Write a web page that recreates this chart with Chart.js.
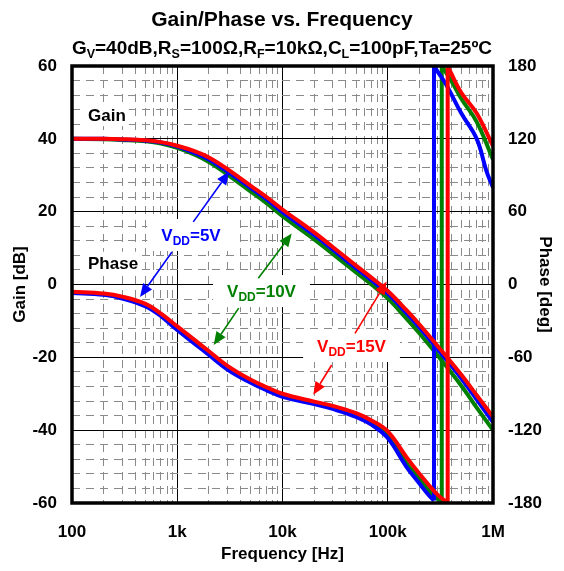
<!DOCTYPE html>
<html>
<head>
<meta charset="utf-8">
<title>Gain/Phase vs. Frequency</title>
<script src="https://cdn.jsdelivr.net/npm/chart.js@4.4.1/dist/chart.umd.min.js"></script>
<style>
  html, body { margin: 0; padding: 0; background: #fff; }
  #wrap { width: 564px; height: 571px; }
</style>
</head>
<body>
<div id="wrap"><canvas id="myChart"></canvas></div>
<script>
const FONT = "'Liberation Sans', Arial, sans-serif";
const BLUE = '#0000ff', GREEN = '#008000', RED = '#ff0000';

// frequency points [Hz] for the gain curves
const freqs = [100, 200, 300, 500, 700, 1e3, 1.5e3, 2e3, 3e3, 5e3, 7e3, 1e4, 2e4, 3e4, 5e4, 7e4, 1e5, 1.5e5, 2e5, 3e5, 5e5, 7e5, 1e6];

// gain [dB]
const gain5V  = [40.0, 40.0, 39.8, 39.5, 39.0, 37.9, 36.0, 34.3, 31.0, 26.5, 23.5, 19.9, 13.6, 9.6, 4.5, 1.2, -2.5, -7.8, -11.8, -17.9, -25.8, -31.6, -37.8];
const gain10V = [40.0, 39.9, 39.7, 39.3, 38.7, 37.5, 35.5, 33.6, 30.2, 25.5, 22.4, 18.8, 12.4, 8.4, 3.3, 0.0, -3.8, -9.3, -13.4, -19.6, -27.8, -33.8, -40.0];
const gain15V = [40.0, 40.0, 39.9, 39.6, 39.1, 38.1, 36.5, 34.9, 31.7, 27.1, 24.1, 20.6, 14.3, 10.3, 5.2, 1.9, -1.8, -7.0, -11.0, -17.0, -24.8, -30.4, -36.3];

// phase [deg], wraps from -180 to +180 at high frequency
const phaseFreq5V = [100, 200, 300, 500, 700, 1e3, 1.5e3, 2e3, 3e3, 5e3, 7e3, 1e4, 2e4, 3e4, 5e4, 7e4, 1e5, 1.5e5, 2e5, 2.5e5, 2.75e5, 2.75e5, 3e5, 3.63e5, 5e5, 7e5, 8.7e5, 1e6];
const phase5V = [-7, -8.5, -11.5, -18, -26, -37.5, -49.5, -58, -70, -81, -87, -92.5, -98.5, -102.5, -109, -115.5, -126.5, -150, -164, -174.5, -178, 180, 175, 164, 141, 120, 93, 80];

const phaseFreq10V = [100, 200, 300, 500, 700, 1e3, 1.5e3, 2e3, 3e3, 5e3, 7e3, 1e4, 2e4, 3e4, 5e4, 7e4, 1e5, 1.5e5, 2e5, 2.5e5, 3e5, 3.26e5, 3.26e5, 4e5, 5e5, 7e5, 1e6];
const phase10V = [-6.5, -8, -11, -17, -25, -36, -48, -56.5, -68.5, -80, -86, -91.5, -97.5, -101.5, -107.5, -114, -124.5, -147, -160, -170.5, -177, -180, 180, 168, 153, 134, 103];

const phaseFreq15V = [100, 200, 300, 500, 700, 1e3, 1.5e3, 2e3, 3e3, 5e3, 7e3, 1e4, 2e4, 3e4, 5e4, 7e4, 1e5, 1.5e5, 2e5, 2.5e5, 3e5, 3.71e5, 3.71e5, 4e5, 5e5, 7e5, 1e6];
const phase15V = [-6, -7.5, -10, -16, -24, -34.5, -46.5, -55, -67, -78.5, -84.5, -90, -96.5, -100, -106, -112, -121, -142, -156, -166, -173.5, -180, 180, 174, 158, 141, 114];

// axis ticks
const xTicks = [100, 1e3, 1e4, 1e5, 1e6];
const xTickLabels = ['100', '1k', '10k', '100k', '1M'];
const gainTicks = [-60, -40, -20, 0, 20, 40, 60];
const phaseTicks = [-180, -120, -60, 0, 60, 120, 180];

// V_DD labels [text, colour, freq, gain dB] and arrows [colour, f1, g1, f2, g2]
const vddLabels = [['5V', BLUE, 1351, 13.6], ['10V', GREEN, 6318, -1.8], ['15V', RED, 45250, -16.9]];
const vddArrows = [
  [BLUE, 1420, 17.2, 3120, 31.0],
  [BLUE, 891, 8.9, 443, -3.4],
  [GREEN, 5890, 1.7, 12230, 14.0],
  [GREEN, 3837, -6.5, 2219, -16.6],
  [RED, 48860, -13.4, 97700, 0.8],
  [RED, 29350, -22.1, 19620, -30.3]
];
const curveNames = [['Gain', 142, 46.5], ['Phase', 142, 6.0]];

function gainPoints(ys) {
  return freqs.map((f, i) => ({x: f, y: ys[i]}));
}
// break the line where the phase wraps, the jump itself is drawn by its own dataset
function phasePoints(fs, ps) {
  const pts = [];
  fs.forEach((f, i) => {
    if (i > 0 && Math.abs(ps[i] - ps[i - 1]) > 180) pts.push({x: f, y: null});
    pts.push({x: f, y: ps[i]});
  });
  return pts;
}
function wrapPoints(fs, ps) {
  for (let i = 1; i < fs.length; i++) {
    if (Math.abs(ps[i] - ps[i - 1]) > 180) return [{x: fs[i - 1], y: ps[i - 1]}, {x: fs[i], y: ps[i]}];
  }
  return [];
}

function curve(data, color, axis) {
  return {data: data, yAxisID: axis, borderColor: color, borderWidth: 4, pointRadius: 0,
    tension: 0.4, fill: false};
}
function jump(data, color) {
  return {data: data, yAxisID: 'y1', borderColor: color, borderWidth: 4, pointRadius: 0, tension: 0};
}

function partsWidth(ctx, parts) {
  let w = 0;
  parts.forEach(p => { ctx.font = 'bold ' + p[1] + 'px ' + FONT; w += ctx.measureText(p[0]).width; });
  return w;
}
function drawParts(ctx, parts, x, y) {
  parts.forEach(p => {
    ctx.font = 'bold ' + p[1] + 'px ' + FONT;
    ctx.fillText(p[0], x, y + p[2]);
    x += ctx.measureText(p[0]).width;
  });
}
function arrow(ctx, x1, y1, x2, y2, color) {
  const a = Math.atan2(y2 - y1, x2 - x1);
  const head = 13, half = 5.5;
  const bx = x2 - head * Math.cos(a), by = y2 - head * Math.sin(a);
  ctx.strokeStyle = color;
  ctx.fillStyle = color;
  ctx.lineWidth = 1.6;
  ctx.beginPath();
  ctx.moveTo(x1, y1);
  ctx.lineTo(bx, by);
  ctx.stroke();
  ctx.beginPath();
  ctx.moveTo(x2, y2);
  ctx.lineTo(bx + half * Math.sin(a), by - half * Math.cos(a));
  ctx.lineTo(bx - half * Math.sin(a), by + half * Math.cos(a));
  ctx.closePath();
  ctx.fill();
}

const annotate = {
  id: 'annotate',
  beforeDatasetsDraw(chart) {
    const {ctx, scales: {x, y}} = chart;
    ctx.save();
    ctx.textBaseline = 'alphabetic';
    curveNames.forEach(([t, f, g]) => {
      const px = x.getPixelForValue(f), py = y.getPixelForValue(g);
      ctx.font = 'bold 17px ' + FONT;
      const w = ctx.measureText(t).width;
      ctx.fillStyle = '#fff';
      ctx.fillRect(px - 3, py - 11, w + 6, 22);
      ctx.fillStyle = '#000';
      ctx.fillText(t, px, py + 6);
    });
    vddLabels.forEach(([v, color, f, g]) => {
      const parts = [['V', 17, 0], ['DD', 12, 4], ['=' + v, 17, 0]];
      const w = partsWidth(ctx, parts);
      const px = x.getPixelForValue(f), py = y.getPixelForValue(g);
      ctx.fillStyle = '#fff';
      ctx.fillRect(px - w / 2 - 14, py - 16, w + 28, 32);
      ctx.fillStyle = color;
      drawParts(ctx, parts, px - w / 2, py + 6);
    });
    ctx.restore();
  },
  afterDatasetsDraw(chart) {
    const {ctx, chartArea: a, scales: {x, y}} = chart;
    ctx.save();
    vddArrows.forEach(([c, f1, g1, f2, g2]) => {
      arrow(ctx, x.getPixelForValue(f1), y.getPixelForValue(g1), x.getPixelForValue(f2), y.getPixelForValue(g2), c);
    });
    ctx.strokeStyle = '#000';
    ctx.lineWidth = 3.5;
    ctx.strokeRect(a.left, a.top, a.right - a.left, a.bottom - a.top);
    ctx.restore();
  },
  afterDraw(chart) {
    const ctx = chart.ctx;
    const cx = chart.width / 2;
    ctx.save();
    ctx.fillStyle = '#000';
    ctx.textBaseline = 'alphabetic';
    ctx.textAlign = 'center';
    ctx.font = 'bold 21px ' + FONT;
    ctx.fillText('Gain/Phase vs. Frequency', cx, 26);
    ctx.textAlign = 'left';
    const sub = [['G', 19, 0], ['V', 12.5, 4], ['=40dB,R', 19, 0], ['S', 12.5, 4], ['=100\u03a9,R', 19, 0], ['F', 12.5, 4],
      ['=10k\u03a9,C', 19, 0], ['L', 12.5, 4], ['=100pF,Ta=25\u00baC', 19, 0]];
    const w = partsWidth(ctx, sub);
    drawParts(ctx, sub, cx - w / 2, 54);
    ctx.restore();
  }
};

function isMajorX(v) { return xTicks.includes(v); }

function createChart() {
  const ctx = document.getElementById('myChart').getContext('2d');
  Chart.defaults.color = '#000';
  const tickFont = {family: FONT, size: 17, weight: 'bold'};
  const titleFont = {family: FONT, size: 17, weight: 'bold'};
  new Chart(ctx, {
    type: 'line',
    data: {
      datasets: [
        curve(gainPoints(gain15V), RED, 'y'),
        curve(phasePoints(phaseFreq15V, phase15V), RED, 'y1'),
        jump(wrapPoints(phaseFreq15V, phase15V), RED),
        curve(gainPoints(gain5V), BLUE, 'y'),
        curve(phasePoints(phaseFreq5V, phase5V), BLUE, 'y1'),
        jump(wrapPoints(phaseFreq5V, phase5V), BLUE),
        curve(gainPoints(gain10V), GREEN, 'y'),
        curve(phasePoints(phaseFreq10V, phase10V), GREEN, 'y1'),
        jump(wrapPoints(phaseFreq10V, phase10V), GREEN)
      ]
    },
    options: {
      responsive: true,
      maintainAspectRatio: false,
      animation: false,
      layout: {padding: {top: 66, left: 0, right: 0, bottom: 0}},
      plugins: {legend: {display: false}, tooltip: {enabled: false}},
      scales: {
        x: {
          type: 'logarithmic',
          min: 100,
          max: 1e6,
          afterBuildTicks: (scale) => {
            const ticks = [];
            xTicks.forEach((d, i) => {
              ticks.push({value: d});
              if (i < xTicks.length - 1) for (let m = 2; m <= 9; m++) ticks.push({value: d * m});
            });
            scale.ticks = ticks;
          },
          afterFit: (scale) => { scale.height = 68; },
          ticks: {
            autoSkip: false, maxRotation: 0, minRotation: 0, padding: 19, font: tickFont,
            callback: (v) => { const i = xTicks.indexOf(v); return i >= 0 ? xTickLabels[i] : ''; }
          },
          grid: {
            drawTicks: false, lineWidth: 1,
            color: (c) => (c.tick && isMajorX(c.tick.value)) ? '#000' : '#8a8a8a'
          },
          border: {display: false, dash: (c) => (c.tick && isMajorX(c.tick.value)) ? [] : [8, 6]},
          title: {display: true, text: 'Frequency [Hz]', font: titleFont, padding: {top: 0, bottom: 6}}
        },
        y: {
          position: 'left',
          min: -60, max: 60,
          afterFit: (scale) => { scale.width = 72; },
          ticks: {
            stepSize: 4, autoSkip: false, padding: 15, font: tickFont,
            callback: (v) => gainTicks.includes(v) ? String(v) : ''
          },
          grid: {
            drawTicks: false, lineWidth: 1,
            color: (c) => (c.tick && gainTicks.includes(c.tick.value)) ? '#000' : '#8a8a8a'
          },
          border: {display: false, dash: (c) => (c.tick && gainTicks.includes(c.tick.value)) ? [] : [8, 6]},
          title: {display: true, text: 'Gain [dB]', font: titleFont, padding: {top: 10, bottom: 0}}
        },
        y1: {
          position: 'right',
          min: -180, max: 180,
          afterFit: (scale) => { scale.width = 71; },
          ticks: {
            stepSize: 12, autoSkip: false, padding: 15, font: tickFont,
            callback: (v) => phaseTicks.includes(v) ? String(v) : ''
          },
          grid: {drawOnChartArea: false, drawTicks: false},
          border: {display: false},
          title: {display: true, text: 'Phase [deg]', font: titleFont, padding: {top: 9, bottom: 0}}
        }
      }
    },
    plugins: [annotate]
  });
}
createChart();
</script>
</body>
</html>
